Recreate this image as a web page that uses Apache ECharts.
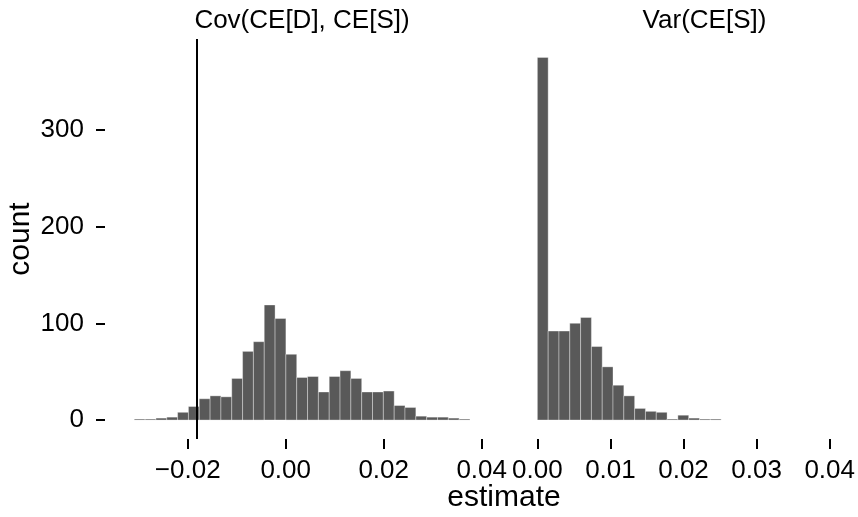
<!DOCTYPE html>
<html>
<head>
    <meta charset='utf-8'>
    <script src="https://cdn.jsdelivr.net/npm/echarts@6/dist/echarts.min.js"></script>
</head>
<body>
<style>
    html, body, #main {
        width: 100%;
        height: 100%;
        margin: 0;
        padding: 0;
        background: #fff;
    }
</style>
<div id="main"></div>
<script>
    // facet labels
    var panelTitles = ['Cov(CE[D], CE[S])', 'Var(CE[S])'];

    // left panel histogram: Cov(CE[D], CE[S])
    var covBinStart = -0.0309;
    var covBinWidth = 0.00221;
    var covCounts = [1, 1, 2, 3, 8, 14, 22, 25, 24, 43, 71, 81, 119, 105, 68, 44,
        45, 29, 45, 51, 43, 29, 29, 30, 15, 13, 4, 3, 3, 2, 1];
    var covLine = -0.01815;

    // right panel histogram: Var(CE[S])
    var varBinStart = 0;
    var varBinWidth = 0.001479;
    var varCounts = [375, 92, 92, 100, 106, 76, 55, 36, 25, 12, 9, 8, 1, 5, 2, 1, 1];

    var covTicks = [-0.02, 0, 0.02, 0.04];
    var varTicks = [0, 0.01, 0.02, 0.03, 0.04];
    var countTicks = [0, 100, 200, 300];

    function toBins(start, width, counts) {
        return counts.map(function (c, i) {
            return [start + i * width, start + (i + 1) * width, c];
        });
    }

    var chart = echarts.init(document.getElementById('main'));
    var font = "'Liberation Sans', Arial, Helvetica, sans-serif";

    function renderBar(params, api) {
        var p0 = api.coord([api.value(0), api.value(2)]);
        var p1 = api.coord([api.value(1), 0]);
        return {
            type: 'rect',
            shape: {x: p0[0], y: p0[1], width: p1[0] - p0[0], height: p1[1] - p0[1]},
            style: {fill: '#595959', stroke: 'rgba(255,255,255,0.35)', lineWidth: 1}
        };
    }

    function xAxisFor(idx, min, max, ticks) {
        return {
            type: 'value',
            gridIndex: idx,
            min: min,
            max: max,
            splitLine: {show: false},
            axisLine: {show: false, onZero: false},
            axisTick: {show: true, length: 10, customValues: ticks,
                lineStyle: {color: '#000', width: 2}},
            axisLabel: {
                customValues: ticks,
                margin: 19,
                color: '#000',
                fontSize: 26,
                fontFamily: font,
                formatter: function (v) {
                    return (v < 0 ? '\u2212' : '') + Math.abs(v).toFixed(2);
                }
            }
        };
    }

    function yAxisFor(idx, show) {
        return {
            type: 'value',
            gridIndex: idx,
            min: -19.6,
            max: 394,
            show: show,
            offset: 13,
            splitLine: {show: false},
            axisLine: {show: false, onZero: false},
            axisTick: {show: true, length: 9, customValues: countTicks,
                lineStyle: {color: '#000', width: 2}},
            axisLabel: {
                customValues: countTicks,
                margin: 21,
                color: '#000',
                fontSize: 26,
                fontFamily: font
            }
        };
    }

    var option = {
        animation: false,
        grid: [
            {left: 118, top: 39, width: 368, height: 400},
            {left: 522, top: 39, width: 336, height: 400}
        ],
        xAxis: [
            xAxisFor(0, -0.0342245, 0.0408775, covTicks),
            xAxisFor(1, -0.0021017, 0.0434576, varTicks)
        ],
        yAxis: [yAxisFor(0, true), yAxisFor(1, false)],
        series: [
            {
                type: 'custom',
                xAxisIndex: 0,
                yAxisIndex: 0,
                renderItem: renderBar,
                encode: {x: [0, 1], y: 2},
                data: toBins(covBinStart, covBinWidth, covCounts)
            },
            {
                type: 'line',
                xAxisIndex: 0,
                yAxisIndex: 0,
                data: [],
                markLine: {
                    silent: true,
                    symbol: 'none',
                    precision: 6,
                    label: {show: false},
                    lineStyle: {color: '#000', width: 2, type: 'solid'},
                    data: [{xAxis: covLine}]
                }
            },
            {
                type: 'custom',
                xAxisIndex: 1,
                yAxisIndex: 1,
                renderItem: renderBar,
                encode: {x: [0, 1], y: 2},
                data: toBins(varBinStart, varBinWidth, varCounts)
            }
        ],
        graphic: [
            {type: 'text', x: 302, y: 21, style: {text: panelTitles[0], fill: '#000',
                font: '26px ' + font, textAlign: 'center', textVerticalAlign: 'middle'}},
            {type: 'text', x: 704.5, y: 21, style: {text: panelTitles[1], fill: '#000',
                font: '26px ' + font, textAlign: 'center', textVerticalAlign: 'middle'}},
            {type: 'text', x: 504, y: 498, style: {text: 'estimate', fill: '#000',
                font: '30px ' + font, textAlign: 'center', textVerticalAlign: 'middle'}},
            {type: 'text', x: 21, y: 239, rotation: Math.PI / 2, style: {text: 'count', fill: '#000',
                font: '30px ' + font, textAlign: 'center', textVerticalAlign: 'middle'}}
        ]
    };

    chart.setOption(option);
</script>
</body>
</html>
